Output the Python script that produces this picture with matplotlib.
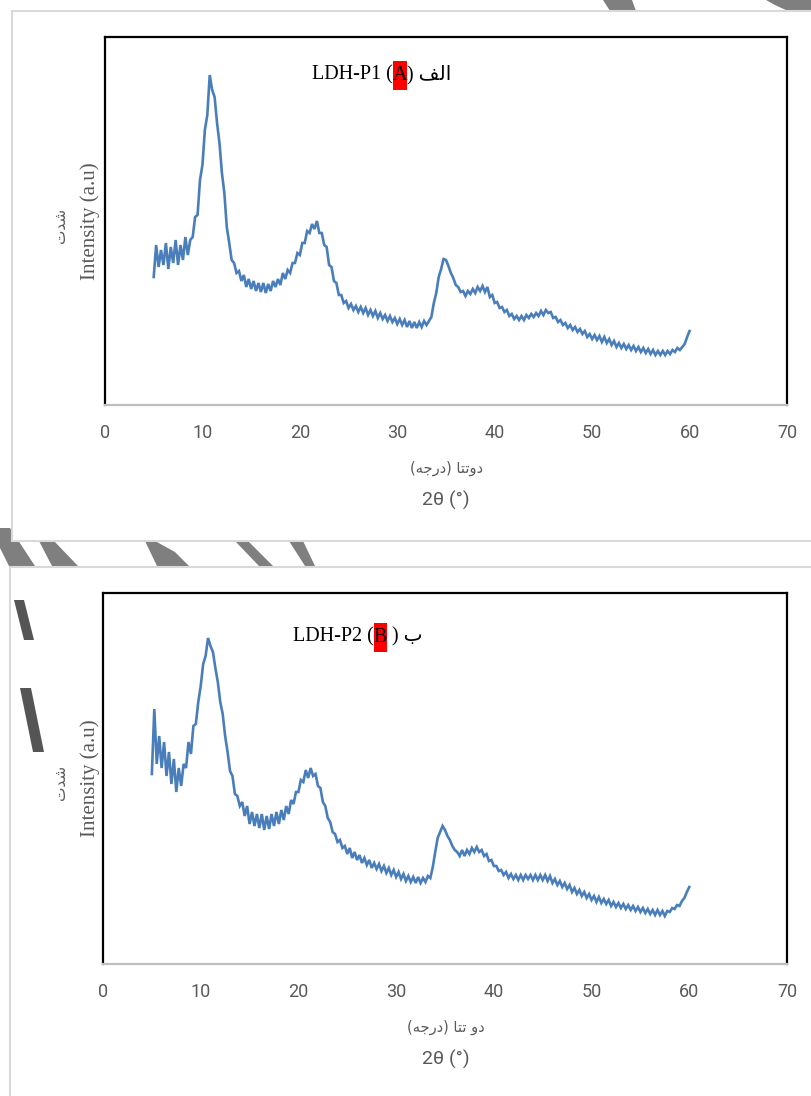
import matplotlib.pyplot as plt
import numpy as np
from matplotlib.patches import Polygon, Rectangle

# 2theta grid (deg) and intensities (arbitrary units)
two_theta = np.arange(5, 60.001, 0.25)

ldh_p1 = [128, 160, 138, 155, 140, 162, 136, 158, 142, 165, 140, 160,
          145, 168, 150, 165, 168, 188, 190, 225, 240, 275, 290, 330,
          315, 308, 282, 262, 232, 212, 178, 162, 145, 142, 132, 134,
          124, 130, 118, 126, 116, 124, 114, 122, 113, 122, 112, 121,
          114, 124, 118, 126, 120, 132, 126, 135, 132, 142, 142, 152,
          150, 162, 162, 174, 172, 181, 176, 184, 172, 172, 160, 158,
          140, 138, 124, 122, 110, 110, 102, 104, 97, 101, 95, 99,
          93, 98, 92, 97, 90, 95, 89, 94, 87, 92, 86, 90,
          84, 89, 83, 87, 81, 86, 80, 85, 78, 84, 77, 83,
          77, 83, 78, 84, 80, 84, 88, 102, 112, 128, 136, 146,
          145, 139, 132, 127, 120, 118, 113, 114, 109, 114, 111, 116,
          112, 118, 114, 119, 113, 118, 108, 110, 102, 103, 97, 98,
          93, 95, 89, 91, 86, 89, 85, 89, 85, 90, 87, 91,
          88, 92, 89, 94, 90, 95, 92, 93, 87, 88, 83, 85,
          80, 82, 77, 80, 75, 78, 73, 76, 71, 74, 68, 71,
          66, 70, 65, 69, 63, 68, 62, 66, 60, 64, 58, 62,
          57, 61, 56, 60, 55, 59, 54, 58, 53, 57, 52, 56,
          51, 55, 50, 54, 50, 54, 50, 54, 51, 55, 53, 57,
          55, 58, 61, 68, 74]

ldh_p2 = [190, 255, 200, 228, 196, 222, 188, 212, 180, 205, 172, 196,
          178, 200, 196, 222, 210, 238, 240, 262, 278, 300, 308, 326,
          318, 312, 296, 282, 262, 250, 228, 212, 193, 188, 170, 168,
          158, 162, 148, 158, 140, 152, 138, 150, 136, 150, 134, 148,
          135, 150, 138, 152, 140, 154, 144, 158, 150, 164, 160, 172,
          172, 184, 182, 194, 186, 196, 188, 190, 178, 176, 162, 158,
          146, 142, 132, 130, 122, 124, 116, 118, 110, 116, 106, 112,
          104, 109, 101, 106, 99, 104, 96, 101, 95, 100, 93, 98,
          91, 96, 89, 94, 87, 92, 85, 90, 83, 88, 82, 87,
          81, 87, 81, 86, 82, 88, 86, 97, 112, 126, 132, 138,
          134, 128, 124, 118, 114, 112, 108, 114, 108, 114, 110, 116,
          112, 117, 112, 114, 108, 110, 103, 104, 98, 98, 93, 94,
          89, 92, 86, 90, 85, 89, 84, 89, 84, 89, 85, 89,
          84, 89, 84, 89, 84, 89, 83, 88, 81, 85, 79, 83,
          77, 81, 75, 79, 72, 76, 70, 74, 68, 72, 66, 70,
          64, 68, 62, 67, 61, 65, 60, 64, 58, 62, 57, 61,
          56, 60, 55, 59, 54, 58, 53, 57, 52, 56, 51, 55,
          50, 54, 49, 54, 49, 53, 48, 53, 52, 56, 55, 59,
          58, 63, 66, 72, 77]

x_ticks = [0, 10, 20, 30, 40, 50, 60, 70]

W, H = 811, 1096
fig = plt.figure(figsize=(W / 100, H / 100), dpi=100)
fig.patch.set_facecolor('white')

def fx(x):
    return x / W

def fy(y):
    return 1 - y / H

# background page: gray stripes and the two white frames (pixel coords)
bg = fig.add_axes([0, 0, 1, 1])
bg.set_xlim(0, W)
bg.set_ylim(H, 0)
bg.axis('off')
bg.set_zorder(0)
stripe_col = '#7f7f7f'
stripes = [
    [(603, 0), (632, 0), (636, 11), (610, 11)],
    [(766, 0), (811, 0), (811, 12), (790, 12), (775, 5)],
    [(0, 528), (10, 528), (35, 566), (9, 566), (0, 548)],
    [(39, 541), (54, 541), (78, 566), (52, 566)],
    [(145, 541), (155, 541), (175, 552), (189, 566), (157, 566)],
    [(235, 541), (248, 541), (273, 566), (259, 566)],
    [(289, 541), (303, 541), (315, 566), (305, 566)],
]
for pts in stripes:
    bg.add_patch(Polygon(pts, closed=True, facecolor=stripe_col, edgecolor='none', zorder=1))
bg.add_patch(Rectangle((12, 11), 820, 530, facecolor='white', edgecolor='#d9d9d9', lw=1.5, zorder=2))
bg.add_patch(Rectangle((10, 567), 820, 560, facecolor='white', edgecolor='#d9d9d9', lw=1.5, zorder=2))
# dark strokes over the left edge of the lower frame
for pts in [[(14, 600), (24, 600), (34, 640), (24, 640)],
            [(20, 688), (31, 688), (44, 752), (33, 752)]]:
    bg.add_patch(Polygon(pts, closed=True, facecolor='#555555', edgecolor='none', zorder=3))

tick_font = ['Liberation Sans Narrow', 'Roboto', 'DejaVu Sans']
serif = ['Liberation Serif', 'DejaVu Sans']
line_col = '#4a7ebb'
label_col = '#595959'

# shaped Persian strings in visual (left-to-right) order
deg_1 = '(\ufeea\ufe9f\ufead\ufea9) \ufe8e\ufe98\ufe97\ufeed\ufea9'
deg_2 = '(\ufeea\ufe9f\ufead\ufea9) \ufe8e\ufe98\ufe97 \ufeed\ufea9'
shedat = '\ufe95\ufeaa\ufeb7'
alef = '\ufed2\ufedf\ufe8d'
be = '\ufe8f'

panels = [
    dict(box=(105, 37, 787, 405), y=ldh_p1, deg=deg_1,
         title=[('LDH-P1 (', False), ('A', True), (') ' + alef, False)],
         tpos=(312, 75), ylab=221, xl1=468, xl2=500),
    dict(box=(103, 593, 787, 964), y=ldh_p2, deg=deg_2,
         title=[('LDH-P2 (', False), ('B', True), (' ) ' + be, False)],
         tpos=(293, 637), ylab=778, xl1=1027, xl2=1059),
]

fig.canvas.draw()
renderer = fig.canvas.get_renderer()

for p in panels:
    l, t, r, b = p['box']
    ax = fig.add_axes([fx(l), fy(b), (r - l) / W, (b - t) / H])
    ax.set_zorder(3)
    ax.plot(two_theta, p['y'], color=line_col, lw=1.9, solid_joinstyle='miter')
    ax.set_xlim(0, 70)
    ax.set_ylim(0, b - t)
    ax.set_xticks(x_ticks)
    ax.set_xticklabels([str(v) for v in x_ticks], family=tick_font, fontsize=13, color=label_col)
    ax.set_yticks([])
    ax.tick_params(axis='x', length=0, pad=14)
    for s in ['top', 'left', 'right']:
        ax.spines[s].set_color('black')
        ax.spines[s].set_linewidth(1.6)
    ax.spines['bottom'].set_color('#bfbfbf')
    ax.spines['bottom'].set_linewidth(1.6)

    fig.text(fx(446), fy(p['xl1']), p['deg'], family=['DejaVu Sans'], fontsize=10.5,
             color=label_col, ha='center', va='center')
    fig.text(fx(446), fy(p['xl2']), '2\u03b8 (\u00b0)', family=tick_font, fontsize=14,
             color=label_col, ha='center', va='center')
    fig.text(fx(90), fy(p['ylab']), 'Intensity (a.u)', family=serif, fontsize=15,
             color=label_col, ha='center', va='center', rotation=90)
    fig.text(fx(60), fy(p['ylab'] + 4), shedat, family=['DejaVu Sans'], fontsize=11,
             color=label_col, ha='center', va='center', rotation=90)

    # title with red highlighted letter
    x0 = fx(p['tpos'][0])
    ty = p['tpos'][1]
    for s, hl in p['title']:
        txt = fig.text(x0, fy(ty), s, family=serif, fontsize=14.5, color='black',
                       ha='left', va='center', zorder=5)
        bb = txt.get_window_extent(renderer)
        if hl:
            fig.patches.append(Rectangle((bb.x0 / W, fy(ty + 14.5)), bb.width / W, 29 / H,
                                         transform=fig.transFigure, facecolor='red',
                                         edgecolor='none', zorder=4))
        x0 += bb.width / W

fig.savefig('out.png', dpi=100, facecolor='white')
